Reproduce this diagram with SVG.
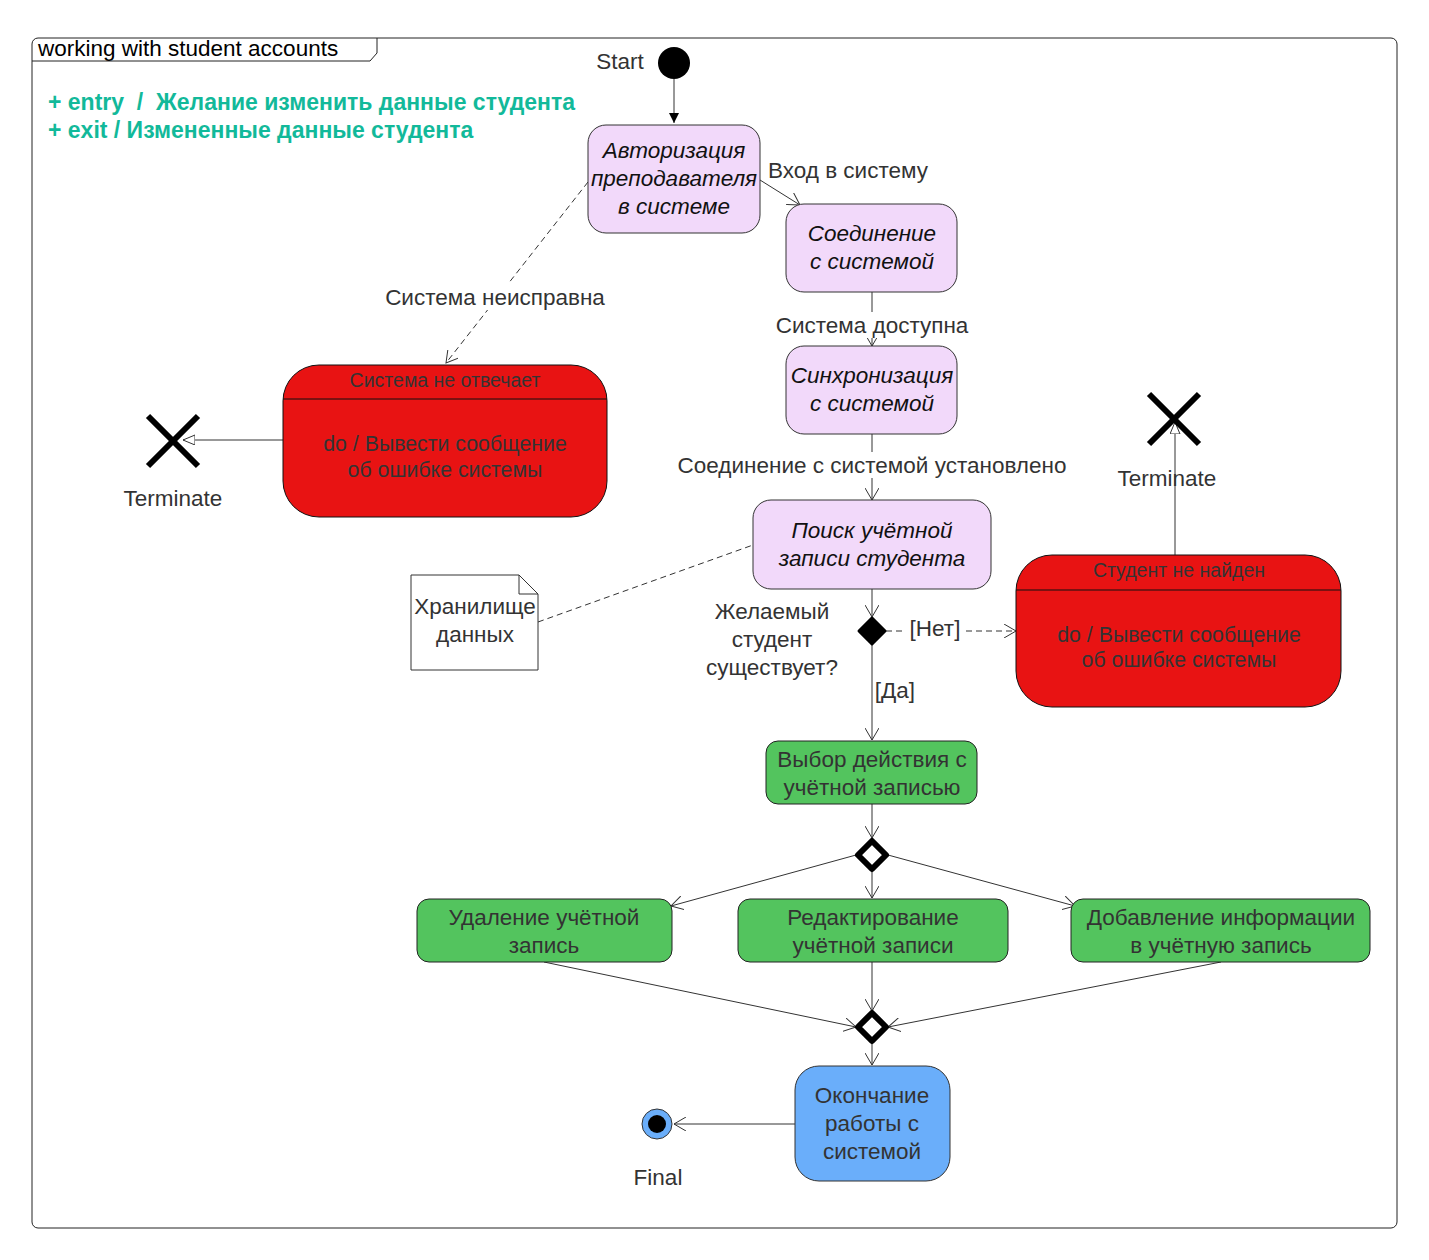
<svg xmlns="http://www.w3.org/2000/svg" width="1429" height="1260" viewBox="0 0 1429 1260">
<defs>
<style>
text{font-family:"Liberation Sans",Arial,sans-serif;fill:#333}
.lbl{font-size:22.5px}
.it{font-size:22.5px;font-style:italic;fill:#111}
.nd{font-size:22.5px}
.hd{font-size:19.5px}
.bd{font-size:21.3px}
.teal{font-size:23px;font-weight:bold;fill:#12b99a;white-space:pre}
.c{stroke:#333;stroke-width:1;fill:none}
.d{stroke-dasharray:6,4}
.purple{fill:#f2d9fa;stroke:#333;stroke-width:1}
.red{fill:#e81313;stroke:#111;stroke-width:1}
.green{fill:#53c45e;stroke:#222;stroke-width:1}
.blue{fill:#6aaefa;stroke:#333;stroke-width:1}
.x{stroke:#000;stroke-width:6}
.bg{fill:#fff}
</style>
<marker id="open" markerWidth="14" markerHeight="14" refX="12" refY="7" orient="auto" markerUnits="userSpaceOnUse">
<path d="M0,0 L12,7 L0,14" fill="none" stroke="#333" stroke-width="1"/>
</marker>
<marker id="fill" markerWidth="12" markerHeight="12" refX="10" refY="5" orient="auto" markerUnits="userSpaceOnUse">
<path d="M0,0 L10,5 L0,10 Z" fill="#000"/>
</marker>
<marker id="hollow" markerWidth="14" markerHeight="12" refX="12" refY="5" orient="auto" markerUnits="userSpaceOnUse">
<path d="M0,0 L12,5 L0,10 Z" fill="#fff" stroke="#333" stroke-width="1"/>
</marker>
</defs>
<rect width="1429" height="1260" fill="#fff"/>

<g id="frame">
<rect x="32" y="38" width="1365" height="1190" rx="6" fill="none" stroke="#222" stroke-width="1"/>
<path d="M32,61 L370,61 L377,53 L377,38" fill="none" stroke="#222" stroke-width="1"/>
<text x="38" y="56" style="font-size:22.5px;fill:#000">working with student accounts</text>
<text x="48" y="110" class="teal" xml:space="preserve">+ entry  /  Желание изменить данные студента</text>
<text x="48" y="138" class="teal">+ exit / Измененные данные студента</text>
</g>

<g id="connectors">
<line x1="674" y1="79" x2="674" y2="123" class="c" marker-end="url(#fill)"/>
<line x1="760" y1="180" x2="800" y2="205" class="c" marker-end="url(#open)"/>
<line x1="588" y1="182" x2="446" y2="363" class="c d" marker-end="url(#open)"/>
<line x1="872" y1="292" x2="872" y2="346" class="c" marker-end="url(#open)"/>
<line x1="872" y1="434" x2="872" y2="500" class="c" marker-end="url(#open)"/>
<line x1="283" y1="440" x2="183" y2="440" class="c" marker-end="url(#hollow)"/>
<line x1="538" y1="622" x2="753" y2="545" class="c d"/>
<line x1="872" y1="589" x2="872" y2="617" class="c" marker-end="url(#open)"/>
<line x1="886" y1="631" x2="1016" y2="631" class="c d" marker-end="url(#open)"/>
<line x1="872" y1="645" x2="872" y2="740" class="c" marker-end="url(#open)"/>
<line x1="1175" y1="555" x2="1175" y2="422" class="c" marker-end="url(#hollow)"/>
<line x1="872" y1="804" x2="872" y2="838" class="c" marker-end="url(#open)"/>
<line x1="872" y1="872" x2="872" y2="898" class="c" marker-end="url(#open)"/>
<line x1="856" y1="855" x2="671" y2="906" class="c" marker-end="url(#open)"/>
<line x1="888" y1="855" x2="1075" y2="906" class="c" marker-end="url(#open)"/>
<line x1="544" y1="962" x2="856" y2="1027" class="c" marker-end="url(#open)"/>
<line x1="872" y1="962" x2="872" y2="1011" class="c" marker-end="url(#open)"/>
<line x1="1221" y1="962" x2="888" y2="1027" class="c" marker-end="url(#open)"/>
<line x1="872" y1="1044" x2="872" y2="1065" class="c" marker-end="url(#open)"/>
<line x1="795" y1="1124" x2="674" y2="1124" class="c" marker-end="url(#open)"/>
<rect x="906" y="618" width="58" height="24" class="bg"/>
<text x="935" y="636" class="lbl" text-anchor="middle">[Нет]</text>
<text x="848" y="178" class="lbl" text-anchor="middle">Вход в систему</text>
<rect x="382" y="284" width="226" height="26" class="bg"/>
<text x="495" y="305" class="lbl" text-anchor="middle">Система неисправна</text>
<rect x="772" y="312" width="200" height="26" class="bg"/>
<text x="872" y="333" class="lbl" text-anchor="middle">Система доступна</text>
<rect x="672" y="452" width="400" height="26" class="bg"/>
<text x="872" y="473" class="lbl" text-anchor="middle">Соединение с системой установлено</text>
<text x="895" y="698" class="lbl" text-anchor="middle">[Да]</text>
</g>

<g id="start">
<circle cx="674" cy="63" r="16" fill="#000"/>
<text x="620" y="69" class="lbl" text-anchor="middle">Start</text>
</g>

<g id="auth">
<rect x="588" y="125" width="172" height="108" rx="18" class="purple"/>
<text x="674" y="158" class="it" text-anchor="middle">Авторизация</text>
<text x="674" y="186" class="it" text-anchor="middle">преподавателя</text>
<text x="674" y="214" class="it" text-anchor="middle">в системе</text>
</g>

<g id="connect">
<rect x="786" y="204" width="171" height="88" rx="18" class="purple"/>
<text x="872" y="241" class="it" text-anchor="middle">Соединение</text>
<text x="872" y="269" class="it" text-anchor="middle">с системой</text>
</g>

<g id="sync">
<rect x="786" y="346" width="171" height="88" rx="18" class="purple"/>
<text x="872" y="383" class="it" text-anchor="middle">Синхронизация</text>
<text x="872" y="411" class="it" text-anchor="middle">с системой</text>
</g>

<g id="search">
<rect x="753" y="500" width="238" height="89" rx="18" class="purple"/>
<text x="872" y="538" class="it" text-anchor="middle">Поиск учётной</text>
<text x="872" y="566" class="it" text-anchor="middle">записи студента</text>
</g>

<g id="no-response">
<rect x="283" y="365" width="324" height="152" rx="36" class="red"/>
<line x1="283" y1="399" x2="607" y2="399" stroke="#111" stroke-width="1"/>
<text x="445" y="387" class="hd" text-anchor="middle">Система не отвечает</text>
<text x="445" y="451" class="bd" text-anchor="middle">do / Вывести сообщение</text>
<text x="445" y="477" class="bd" text-anchor="middle">об ошибке системы</text>
</g>

<g id="terminate-left">
<line x1="148" y1="416" x2="198" y2="466" class="x"/>
<line x1="198" y1="416" x2="148" y2="466" class="x"/>
<text x="173" y="506" class="lbl" text-anchor="middle">Terminate</text>
</g>

<g id="note">
<path d="M411,575 L519,575 L538,594 L538,670 L411,670 Z" fill="#fff" stroke="#333" stroke-width="1"/>
<path d="M519,575 L519,594 L538,594" fill="none" stroke="#333" stroke-width="1"/>
<text x="475" y="614" class="lbl" text-anchor="middle">Хранилище</text>
<text x="475" y="642" class="lbl" text-anchor="middle">данных</text>
</g>

<g id="decision">
<path d="M872,618 L885,631 L872,644 L859,631 Z" fill="#000" stroke="#000" stroke-width="3" stroke-linejoin="round"/>
<text x="772" y="619" class="lbl" text-anchor="middle">Желаемый</text>
<text x="772" y="647" class="lbl" text-anchor="middle">студент</text>
<text x="772" y="675" class="lbl" text-anchor="middle">существует?</text>
</g>

<g id="not-found">
<rect x="1016" y="555" width="325" height="152" rx="36" class="red"/>
<line x1="1016" y1="590" x2="1341" y2="590" stroke="#111" stroke-width="1"/>
<text x="1179" y="577" class="hd" text-anchor="middle">Студент не найден</text>
<text x="1179" y="642" class="bd" text-anchor="middle">do / Вывести сообщение</text>
<text x="1179" y="667" class="bd" text-anchor="middle">об ошибке системы</text>
</g>

<g id="terminate-right">
<line x1="1149" y1="394" x2="1199" y2="444" class="x"/>
<line x1="1199" y1="394" x2="1149" y2="444" class="x"/>
<text x="1167" y="486" class="lbl" text-anchor="middle">Terminate</text>
</g>

<g id="choose">
<rect x="766" y="741" width="211" height="63" rx="12" class="green"/>
<text x="872" y="767" class="nd" text-anchor="middle">Выбор действия с</text>
<text x="872" y="795" class="nd" text-anchor="middle">учётной записью</text>
</g>

<g id="fork">
<path d="M872,841 L886,855 L872,869 L858,855 Z" fill="#fff" stroke="#000" stroke-width="6" stroke-linejoin="round"/>
</g>

<g id="delete">
<rect x="417" y="899" width="255" height="63" rx="12" class="green"/>
<text x="544" y="925" class="nd" text-anchor="middle">Удаление учётной</text>
<text x="544" y="953" class="nd" text-anchor="middle">запись</text>
</g>

<g id="edit">
<rect x="738" y="899" width="270" height="63" rx="12" class="green"/>
<text x="873" y="925" class="nd" text-anchor="middle">Редактирование</text>
<text x="873" y="953" class="nd" text-anchor="middle">учётной записи</text>
</g>

<g id="add">
<rect x="1071" y="899" width="299" height="63" rx="12" class="green"/>
<text x="1221" y="925" class="nd" text-anchor="middle">Добавление информации</text>
<text x="1221" y="953" class="nd" text-anchor="middle">в учётную запись</text>
</g>

<g id="merge">
<path d="M872,1013 L886,1027 L872,1041 L858,1027 Z" fill="#fff" stroke="#000" stroke-width="6" stroke-linejoin="round"/>
</g>

<g id="finish">
<rect x="795" y="1066" width="155" height="115" rx="24" class="blue"/>
<text x="872" y="1103" class="nd" text-anchor="middle">Окончание</text>
<text x="872" y="1131" class="nd" text-anchor="middle">работы с</text>
<text x="872" y="1159" class="nd" text-anchor="middle">системой</text>
</g>

<g id="final">
<circle cx="657" cy="1124" r="15" fill="#6aaefa" stroke="#333" stroke-width="1"/>
<circle cx="657" cy="1124" r="9" fill="#000"/>
<text x="658" y="1185" class="lbl" text-anchor="middle">Final</text>
</g>
</svg>
